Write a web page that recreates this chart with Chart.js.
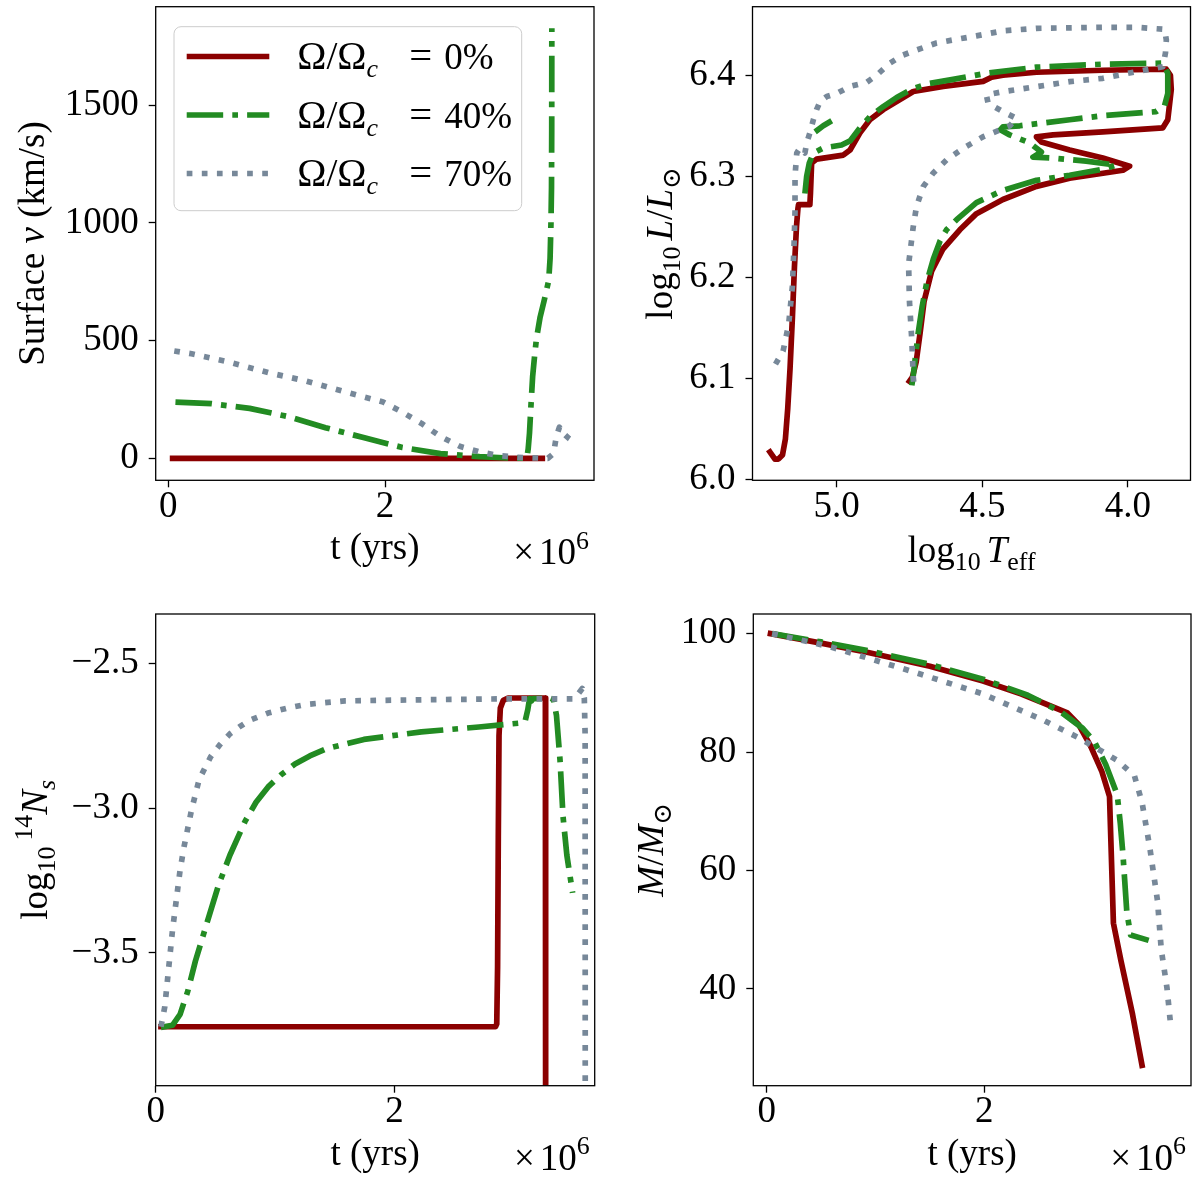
<!DOCTYPE html>
<html><head><meta charset="utf-8">
<script src="https://cdn.jsdelivr.net/npm/chart.js@4.4.1/dist/chart.umd.min.js"></script>
<style>
html,body{margin:0;padding:0;background:#fff;}
#wrap{position:relative;width:1200px;height:1183px;overflow:hidden;background:#fff;}
canvas{position:absolute;}
</style>
</head><body><div id="wrap">
<canvas id="p1" width="600" height="590" style="left:0px;top:0px"></canvas>
<canvas id="p2" width="600" height="590" style="left:600px;top:0px"></canvas>
<canvas id="p3" width="600" height="593" style="left:0px;top:590px"></canvas>
<canvas id="p4" width="600" height="593" style="left:600px;top:590px"></canvas>
</div>
<script>
// ---------------- DATA ----------------
const seriesLabels = ['0%', '40%', '70%'];

// (a) surface velocity [km/s] vs time [x10^6 yr]
const velTime0 = [0.04, 3.45];
const velKms0  = [0, 0];
const velTime40 = [0.066, 0.4, 0.75, 1.1, 1.45, 1.8, 2.16, 2.51, 2.87, 3.15, 3.307, 3.32, 3.332, 3.345, 3.361, 3.38, 3.396, 3.43, 3.466, 3.509, 3.522, 3.53, 3.535, 3.537, 3.538];
const velKms40  = [239, 232, 212, 178, 130, 88, 46, 20, 7, 1, 0, 40, 107, 220, 348, 440, 508, 600, 668, 755, 850, 1000, 1150, 1400, 1827];
const velTime70 = [0.055, 0.215, 0.568, 0.922, 1.275, 1.628, 1.982, 2.159, 2.336, 2.512, 2.689, 2.866, 3.042, 3.22, 3.502, 3.554, 3.579, 3.608, 3.626, 3.661, 3.696, 3.732, 3.743];
const velKms70  = [456, 444, 408, 364, 328, 283, 239, 196, 148, 92, 51, 28, 12, 4, 0, 20, 92, 132, 108, 99, 84, 72, 76];

// (b) HR diagram: log10 Teff, log10 L/Lsun
const hrTeff0 = [5.229, 5.212, 5.200, 5.186, 5.176, 5.168, 5.160, 5.152, 5.145, 5.138, 5.133, 5.131, 5.092, 5.090, 5.086, 5.069, 4.977, 4.954, 4.920, 4.886, 4.840, 4.737, 4.634, 4.497, 4.468, 4.429, 4.314, 4.086, 3.868, 3.854, 3.851, 3.863, 3.880, 4.086, 4.257, 4.314, 4.297, 4.200, 4.086, 3.994, 4.017, 4.200, 4.314, 4.429, 4.520, 4.577, 4.635, 4.674, 4.700, 4.713, 4.727, 4.740, 4.750];
const hrLum0  = [6.027, 6.020, 6.020, 6.024, 6.040, 6.070, 6.110, 6.160, 6.210, 6.250, 6.268, 6.272, 6.272, 6.283, 6.313, 6.317, 6.321, 6.326, 6.343, 6.356, 6.366, 6.384, 6.389, 6.394, 6.398, 6.400, 6.403, 6.405, 6.406, 6.400, 6.386, 6.356, 6.348, 6.344, 6.341, 6.339, 6.334, 6.326, 6.318, 6.310, 6.306, 6.298, 6.290, 6.277, 6.263, 6.247, 6.228, 6.206, 6.176, 6.146, 6.116, 6.101, 6.097];
const hrTeff40 = [5.109, 5.103, 5.094, 5.080, 5.046, 4.983, 4.954, 4.920, 4.886, 4.840, 4.794, 4.737, 4.680, 4.600, 4.486, 4.314, 4.086, 3.880, 3.863, 3.863, 3.874, 3.903, 4.086, 4.200, 4.371, 4.429, 4.438, 4.406, 4.337, 4.297, 4.326, 4.257, 4.143, 4.040, 4.086, 4.200, 4.314, 4.429, 4.520, 4.588, 4.623, 4.645, 4.668, 4.690, 4.707, 4.720, 4.730, 4.738, 4.742, null, 5.074, 5.046, 5.017];
const hrLum40  = [6.283, 6.300, 6.313, 6.323, 6.328, 6.331, 6.335, 6.348, 6.359, 6.369, 6.378, 6.387, 6.392, 6.396, 6.402, 6.408, 6.411, 6.412, 6.402, 6.382, 6.370, 6.364, 6.360, 6.356, 6.350, 6.349, 6.346, 6.341, 6.333, 6.324, 6.319, 6.318, 6.315, 6.311, 6.307, 6.301, 6.296, 6.286, 6.274, 6.257, 6.247, 6.236, 6.218, 6.196, 6.170, 6.145, 6.120, 6.100, 6.093, null, 6.344, 6.350, 6.355];
const hrTeff70 = [5.210, 5.184, 5.165, 5.152, 5.146, 5.143, 5.143, 5.137, 5.126, 5.109, 5.103, 5.092, 5.080, 5.069, 5.057, 5.034, 5.000, 4.954, 4.897, 4.863, 4.817, 4.772, 4.726, 4.657, 4.600, 4.520, 4.429, 4.314, 4.086, 3.971, 3.874, 3.868, 3.871, 3.880, 3.971, 4.086, 4.200, 4.314, 4.429, 4.486, 4.480, 4.429, 4.383, 4.406, 4.440, 4.497, 4.566, 4.623, 4.669, 4.703, 4.726, 4.737, 4.753, 4.750, 4.742, 4.737, 4.733];
const hrLum70  = [6.114, 6.127, 6.153, 6.191, 6.235, 6.265, 6.300, 6.323, 6.328, 6.323, 6.333, 6.343, 6.356, 6.366, 6.374, 6.379, 6.382, 6.389, 6.393, 6.400, 6.412, 6.420, 6.425, 6.432, 6.435, 6.439, 6.444, 6.4465, 6.4475, 6.4475, 6.4455, 6.435, 6.422, 6.4085, 6.4036, 6.397, 6.3937, 6.3887, 6.3838, 6.3805, 6.3723, 6.364, 6.3574, 6.3498, 6.3458, 6.3392, 6.3277, 6.3161, 6.303, 6.2897, 6.2699, 6.2501, 6.213, 6.176, 6.138, 6.101, 6.090];

// (c) log10 surface 14N vs time [x10^6 yr]
const nTime0 = [0.044, 2.845, 2.855, 2.862, 2.868, 2.874, 2.885, 2.91, 2.95, 3.262, 3.264, 3.265];
const nAbund0 = [-3.755, -3.755, -3.745, -3.55, -3.1, -2.75, -2.655, -2.628, -2.62, -2.62, -3.0, -4.3];
const nTime40 = [0.044, 0.14, 0.204, 0.268, 0.332, 0.428, 0.525, 0.621, 0.749, 0.84, 0.941, 1.05, 1.166, 1.29, 1.422, 1.743, 2.224, 2.705, 3.09, 3.115, 3.13, 3.145, 3.16, 3.3, 3.33, 3.355, 3.385, 3.41, 3.442, 3.49];
const nAbund40 = [-3.757, -3.75, -3.712, -3.633, -3.529, -3.398, -3.267, -3.163, -3.045, -2.98, -2.927, -2.885, -2.848, -2.82, -2.796, -2.763, -2.737, -2.72, -2.705, -2.66, -2.622, -2.63, -2.622, -2.62, -2.625, -2.68, -2.836, -3.03, -3.163, -3.293];
const nTime70 = [0.044, 0.076, 0.108, 0.14, 0.172, 0.204, 0.236, 0.30, 0.364, 0.46, 0.54, 0.621, 0.7, 0.781, 0.941, 1.1, 1.262, 1.583, 2.25, 2.917, 3.506, 3.571, 3.588, 3.595, 3.596];
const nAbund70 = [-3.755, -3.686, -3.555, -3.424, -3.319, -3.215, -3.136, -3.006, -2.901, -2.823, -2.78, -2.744, -2.72, -2.698, -2.672, -2.655, -2.642, -2.630, -2.626, -2.623, -2.623, -2.587, -2.62, -2.75, -4.3];

// (d) mass [Msun] vs time [x10^6 yr]
const massTime0 = [0.035, 0.5, 0.933, 1.5, 1.989, 2.342, 2.764, 2.869, 2.975, 3.081, 3.151, 3.187, 3.257, 3.363, 3.45];
const massMsun0 = [100, 98.4, 96.8, 94.5, 92.0, 89.8, 86.6, 84.6, 81.1, 76.7, 72.5, 51.1, 44.7, 35.7, 27.1];
const massTime40 = [0.05, 0.5, 0.933, 1.5, 1.989, 2.4, 2.694, 2.905, 3.011, 3.116, 3.222, 3.25, 3.275, 3.31, 3.345, 3.511];
const massMsun40 = [100, 98.6, 97.1, 94.8, 92.3, 89.6, 86.9, 84.0, 81.8, 77.9, 72.8, 68.0, 62.6, 53.0, 49.1, 48.2];
const massTime70 = [0.05, 0.58, 1.285, 1.989, 2.517, 2.869, 3.046, 3.222, 3.38, 3.45, 3.521, 3.592, 3.627, 3.679, 3.715];
const massMsun70 = [100, 97.8, 93.9, 89.8, 85.6, 82.4, 80.5, 78.6, 76.0, 71.5, 63.9, 54.9, 46.6, 40.2, 33.5];

// tick values and labels
const timeTicks = [0, 2];            const timeTickLabels = ['0', '2'];
const velTicks = [0, 500, 1000, 1500]; const velTickLabels = ['0', '500', '1000', '1500'];
const teffTicks = [4.0, 4.5, 5.0];   const teffTickLabels = ['4.0', '4.5', '5.0'];
const lumTicks = [6.0, 6.1, 6.2, 6.3, 6.4]; const lumTickLabels = ['6.0', '6.1', '6.2', '6.3', '6.4'];
const nTicks = [-3.5, -3.0, -2.5];   const nTickLabels = ['\u22123.5', '\u22123.0', '\u22122.5'];
const massTicks = [40, 60, 80, 100]; const massTickLabels = ['40', '60', '80', '100'];

// ---------------- STYLE / LAYOUT ----------------
const FONT = '"Liberation Serif", "DejaVu Serif", serif';
const FS = 37;
const LW = 5.7;
const styles = [
  {color: '#8b0000', dash: [], cap: 'square'},
  {color: '#228b22', dash: [6.4*LW, 1.6*LW, LW, 1.6*LW], cap: 'butt'},
  {color: '#778899', dash: [LW, 1.65*LW], cap: 'butt'}
];

function ds(xs, ys, k) {
  return {
    data: xs.map((x, i) => ({x: x === null ? xs[i-1] : x, y: ys[i]})),
    borderColor: styles[k].color, borderWidth: LW, borderDash: styles[k].dash,
    borderCapStyle: styles[k].cap, borderJoinStyle: 'round',
    pointRadius: 0, pointHoverRadius: 0, fill: false, tension: 0,
    clip: 0, order: 3 - k, spanGaps: false
  };
}

function fontOf(sg, size) {
  return (sg.it ? 'italic ' : '') + (size * (sg.s || 1)).toFixed(2) + 'px ' + FONT;
}
function drawRich(ctx, segs, x, y, align, rot, size) {
  size = size || FS;
  ctx.save();
  ctx.translate(x, y);
  ctx.rotate(rot || 0);
  ctx.textAlign = 'left';
  ctx.textBaseline = 'alphabetic';
  ctx.fillStyle = '#000';
  const ws = [];
  let w = 0;
  for (const sg of segs) { ctx.font = fontOf(sg, size); const m = ctx.measureText(sg.t).width; ws.push(m); w += m + (sg.gap || 0); }
  let cx = align === 'center' ? -w/2 : (align === 'right' ? -w : 0);
  const x0 = cx;
  segs.forEach((sg, i) => {
    if (sg.x !== undefined) cx = x0 + sg.x;
    ctx.font = fontOf(sg, size);
    ctx.fillText(sg.t, cx, (sg.dy || 0) * size);
    cx += ws[i] + (sg.gap || 0);
  });
  ctx.restore();
}

function textPlugin(spec) {
  return {
    id: 'panelText_' + spec.key,
    afterDraw(chart) {
      const ctx = chart.ctx, a = chart.chartArea;
      ctx.save();
      if (spec.legend) {
        const L = spec.legend;
        const x = L.x, y = L.y, w = L.w, h = L.h, r = 7;
        ctx.beginPath();
        ctx.moveTo(x + r, y);
        ctx.arcTo(x + w, y, x + w, y + h, r);
        ctx.arcTo(x + w, y + h, x, y + h, r);
        ctx.arcTo(x, y + h, x, y, r);
        ctx.arcTo(x, y, x + w, y, r);
        ctx.closePath();
        ctx.fillStyle = 'rgba(255,255,255,0.8)';
        ctx.fill();
        ctx.lineWidth = 1;
        ctx.strokeStyle = '#cccccc';
        ctx.stroke();
        seriesLabels.forEach((lab, k) => {
          const yy = L.rows[k];
          ctx.save();
          ctx.beginPath();
          ctx.setLineDash(styles[k].dash);
          ctx.lineCap = styles[k].cap === 'square' ? 'butt' : styles[k].cap;
          ctx.lineWidth = LW;
          ctx.strokeStyle = styles[k].color;
          ctx.moveTo(L.hx0, yy); ctx.lineTo(L.hx1, yy);
          ctx.stroke();
          ctx.restore();
          drawRich(ctx, [
            {t: '\u03A9/\u03A9', s: 1.06}, {t: 'c', it: 1, s: 0.7, dy: 0.22},
            {t: '=', x: 112, s: 1.1}, {t: lab, x: 147}
          ], L.tx, yy + 12.5, 'left', 0);
        });
      }
      ctx.strokeStyle = '#000';
      ctx.lineWidth = 1.3;
      ctx.setLineDash([]);
      ctx.strokeRect(a.left, a.top, a.right - a.left, a.bottom - a.top);
      if (spec.ylabel) drawRich(ctx, spec.ylabel, spec.ylabelX, (a.top + a.bottom) / 2, 'center', -Math.PI / 2);
      if (spec.xlabel) drawRich(ctx, spec.xlabel, (a.left + a.right) / 2, a.bottom + spec.xlabelDy, 'center', 0);
      if (spec.offset) drawRich(ctx, [{t: '\u00D7', gap: 5}, {t: '10'}, {t: '6', s: 0.7, dy: -0.42}], a.right - 5, a.bottom + 84, 'right', 0);
      ctx.restore();
    }
  };
}

function axis(min, max, ticks, labels, isX, extra, fitSize) {
  return Object.assign({
    type: 'linear', min: min, max: max, bounds: 'data',
    afterBuildTicks: s => { s.ticks = ticks.map(v => ({value: v})); },
    afterFit: s => {
      if (isX) { s.height = fitSize; s.paddingLeft = 0; s.paddingRight = 0; }
      else { s.width = fitSize; s.paddingTop = 0; s.paddingBottom = 0; }
    },
    ticks: {
      autoSkip: false, maxRotation: 0, minRotation: 0, padding: isX ? 1 : 10, color: '#000',
      font: {family: FONT, size: FS, lineHeight: 1},
      callback: (v, i) => labels[i]
    },
    grid: {display: true, drawOnChartArea: false, drawTicks: true, tickLength: 7, tickWidth: 1.3, tickColor: '#000', color: '#000'},
    border: {display: false}
  }, extra || {});
}

const panels = [
  {id: 'p1', cw: 600, ch: 590, l: 155.7, r: 594.0, t: 6.7, b: 480.3},
  {id: 'p2', cw: 600, ch: 590, l: 152.5, r: 590.5, t: 6.7, b: 480.3},
  {id: 'p3', cw: 600, ch: 593, l: 155.7, r: 594.7, t: 24.0, b: 495.7},
  {id: 'p4', cw: 600, ch: 593, l: 153.3, r: 591.0, t: 24.0, b: 495.7}
];
const XH = 40;

function build(p, datasets, xAxis, yAxis, spec) {
  return new Chart(document.getElementById(p.id), {
    type: 'line',
    data: {datasets: datasets},
    options: {
      responsive: false, animation: false, events: [],
      layout: {padding: {left: 0, right: p.cw - p.r, top: p.t, bottom: p.ch - p.b - XH}},
      plugins: {legend: {display: false}, tooltip: {enabled: false}},
      scales: {x: xAxis, y: yAxis}
    },
    plugins: [textPlugin(spec)]
  });
}

const tLabel = [{t: 't (yrs)'}];

// (a)
build(panels[0],
  [ds(velTime0, velKms0, 0), ds(velTime40, velKms40, 1), ds(velTime70, velKms70, 2)],
  axis(-0.1162, 3.927, timeTicks, timeTickLabels, true, null, XH),
  axis(-93.5, 1919, velTicks, velTickLabels, false, null, panels[0].l),
  {key: 'a', ylabel: [{t: 'Surface '}, {t: 'v', it: 1}, {t: ' (km/s)'}], ylabelX: 44,
   xlabel: tLabel, xlabelDy: 79, offset: true,
   legend: {x: 174, y: 26.7, w: 347.7, h: 184, rows: [56.5, 115, 173.5], hx0: 186.7, hx1: 269.3, tx: 297.3}});

// (b)
build(panels[1],
  [ds(hrTeff0, hrLum0, 0), ds(hrTeff40, hrLum40, 1), ds(hrTeff70, hrLum70, 2)],
  axis(3.785, 5.289, teffTicks, teffTickLabels, true, {reverse: true}, XH),
  axis(5.999, 6.4679, lumTicks, lumTickLabels, false, null, panels[1].l),
  {key: 'b', ylabel: [{t: 'log'}, {t: '10', s: 0.7, dy: 0.22, gap: 6}, {t: 'L', it: 1}, {t: '/'}, {t: 'L', it: 1}, {t: '\u2299', s: 0.7, dy: 0.22}], ylabelX: 72,
   xlabel: [{t: 'log'}, {t: '10', s: 0.7, dy: 0.22, gap: 6}, {t: 'T', it: 1}, {t: 'eff', s: 0.7, dy: 0.22}], xlabelDy: 82, offset: false});

// (c)
build(panels[2],
  [ds(nTime0, nAbund0, 0), ds(nTime40, nAbund40, 1), ds(nTime70, nAbund70, 2)],
  axis(0, 3.675, timeTicks, timeTickLabels, true, null, XH),
  axis(-3.9585, -2.330, nTicks, nTickLabels, false, null, panels[2].l),
  {key: 'c', ylabel: [{t: 'log'}, {t: '10', s: 0.7, dy: 0.22, gap: 6}, {t: '14', s: 0.7, dy: -0.4}, {t: 'N', it: 1}, {t: 's', it: 1, s: 0.7, dy: 0.22}], ylabelX: 47,
   xlabel: tLabel, xlabelDy: 79, offset: true});

// (d)
build(panels[3],
  [ds(massTime0, massMsun0, 0), ds(massTime40, massMsun40, 1), ds(massTime70, massMsun70, 2)],
  axis(-0.123, 3.90, timeTicks, timeTickLabels, true, null, XH),
  axis(23.66, 103.31, massTicks, massTickLabels, false, null, panels[3].l),
  {key: 'd', ylabel: [{t: 'M', it: 1}, {t: '/'}, {t: 'M', it: 1}, {t: '\u2299', s: 0.7, dy: 0.22}], ylabelX: 63,
   xlabel: tLabel, xlabelDy: 79, offset: true});
</script>
</body></html>
